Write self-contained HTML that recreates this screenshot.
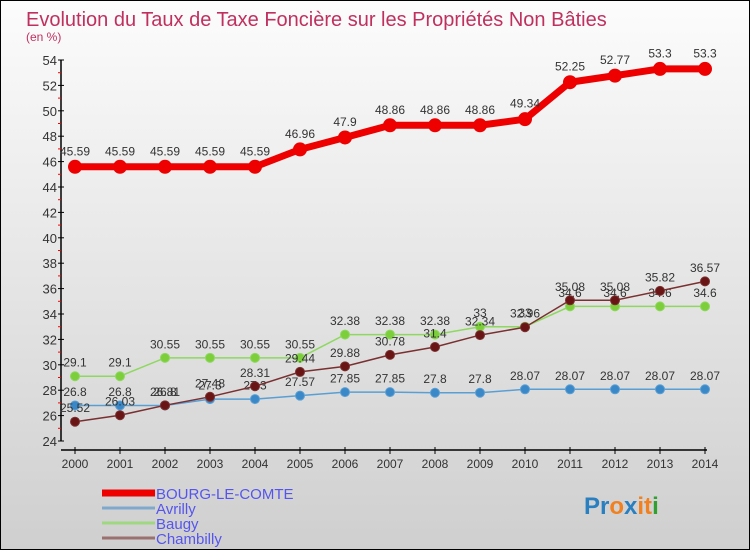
<!DOCTYPE html>
<html><head><meta charset="utf-8"><style>
body{margin:0}
#wrap{position:relative;width:748px;height:548px;border:1px solid #000;background:linear-gradient(#fcfcfc,#cfcfcf);font-family:"Liberation Sans",sans-serif;overflow:hidden}
</style></head><body>
<div id="wrap">
<svg id="svg" width="748" height="548"></svg>
</div>
<script>
const years=[2000,2001,2002,2003,2004,2005,2006,2007,2008,2009,2010,2011,2012,2013,2014];
const bourg=[45.59,45.59,45.59,45.59,45.59,46.96,47.9,48.86,48.86,48.86,49.34,52.25,52.77,53.3,53.3];
const avrilly=[26.8,26.8,26.8,27.3,27.3,27.57,27.85,27.85,27.8,27.8,28.07,28.07,28.07,28.07,28.07];
const baugy=[29.1,29.1,30.55,30.55,30.55,30.55,32.38,32.38,32.38,33,33,34.6,34.6,34.6,34.6];
const chambilly=[25.52,26.03,26.81,27.48,28.31,29.44,29.88,30.78,31.4,32.34,32.96,35.08,35.08,35.82,36.57];
const yTicks=[24,26,28,30,32,34,36,38,40,42,44,46,48,50,52,54];
const NS='http://www.w3.org/2000/svg';
const svg=document.getElementById('svg');
const X=i=>74+i*45, Y=v=>440-(v-24)*12.7;
function mk(t,a,p){const e=document.createElementNS(NS,t);for(const k in a)e.setAttribute(k,a[k]);(p||svg).appendChild(e);return e;}
let t=mk('text',{x:25,y:25,fill:'#c0305f','font-size':20});t.textContent='Evolution du Taux de Taxe Foncière sur les Propriétés Non Bâties';

t=mk('text',{x:25,y:40,fill:'#c0305f','font-size':12});t.textContent='(en %)';

let ax=mk('line',{x1:60,y1:Y(54),x2:60,y2:Y(24),stroke:'#000','stroke-width':1.5});

yTicks.forEach(v=>{mk('line',{x1:57,x2:63,y1:Y(v),y2:Y(v),stroke:'#000'});
 if(v<54)mk('line',{x1:57,x2:60,y1:Y(v+1),y2:Y(v+1),stroke:'#f00'});
 const l=mk('text',{x:56,y:Y(v)+5,'text-anchor':'end','font-size':13,fill:'#333'});l.textContent=v;
 });
ax=mk('line',{x1:60,y1:449,x2:706,y2:449,stroke:'#000','stroke-width':1.5});

years.forEach((y,i)=>{mk('line',{x1:X(i),x2:X(i),y1:446,y2:453,stroke:'#000'});
 const l=mk('text',{x:X(i),y:467,'text-anchor':'middle','font-size':12,fill:'#333'});l.textContent=y;
 });
function series(name,vals,col,lw,r,dot,fs){
 const g=mk('g',{});
 mk('polyline',{points:vals.map((v,i)=>X(i)+','+Y(v)).join(' '),fill:'none',stroke:col,'stroke-width':lw},g);
 vals.forEach((v,i)=>{const c=mk('circle',{cx:X(i),cy:Y(v),r:r,fill:dot,stroke:col,'stroke-width':1},g);
  
  const l=mk('text',{x:X(i),y:Y(v)-r-5,'text-anchor':'middle','font-size':fs,fill:'#333'},g);l.textContent=v;});
}
series('avrilly',avrilly,'#5a9fd4',1.5,4.5,'#3a88c8',12);
series('baugy',baugy,'#8ed860',1.5,4.5,'#7ccf3a',12);
series('chambilly',chambilly,'#7a3030',1.5,4.5,'#6a1515',12);
series('bourg',bourg,'#ee0000',7,6.5,'#ee0000',12);
const leg=[['BOURG-LE-COMTE','#ee0000',7],['Avrilly','#7fa9cc',3],['Baugy','#9fd880',3],['Chambilly','#9a7070',3]];
leg.forEach((d,i)=>{const g=mk('g',{});
 const yy=492+i*15;mk('line',{x1:101,x2:154,y1:yy,y2:yy,stroke:d[1],'stroke-width':d[2]},g);
 const l=mk('text',{x:155,y:yy+6,'font-size':15,fill:'#5555ee'},g);l.textContent=d[0];});
const lg=mk('text',{x:583,y:513,'font-size':24,'font-weight':'bold'});

[['Pr','#2a7fc0'],['o','#f08020'],['x','#2a7fc0'],['it','#f08020'],['i','#30a030']].forEach(p=>{const s=mk('tspan',{fill:p[1]},lg);s.textContent=p[0];});
</script>
</body></html>
